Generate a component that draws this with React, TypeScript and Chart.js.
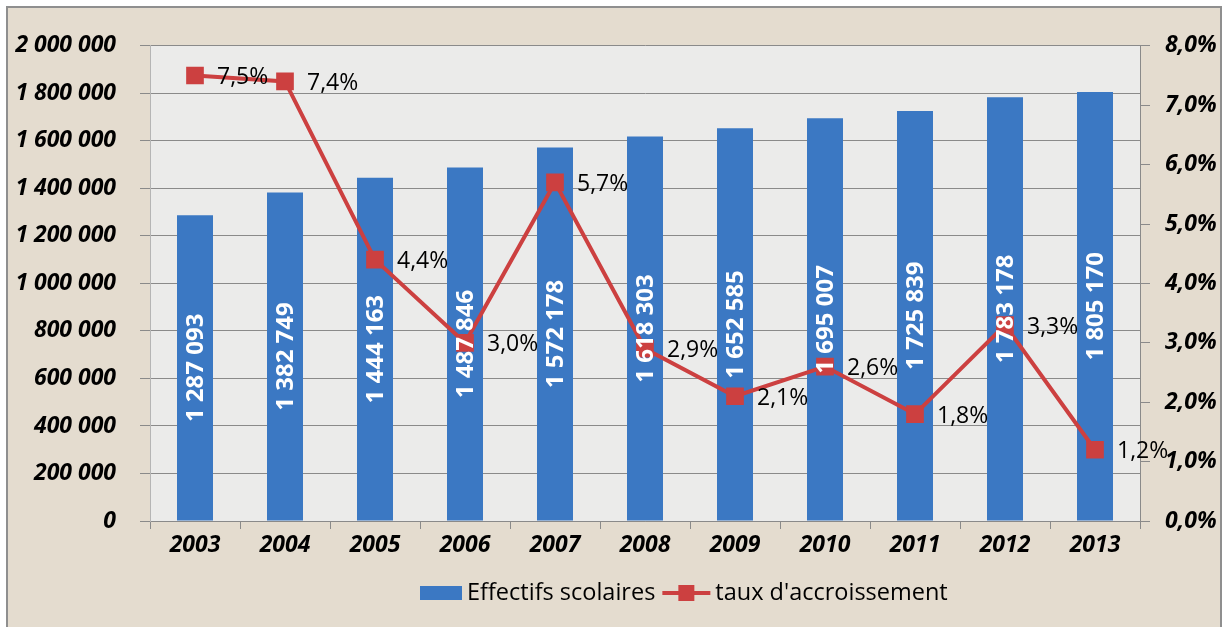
import { useEffect, useRef } from 'react';
import { Chart, registerables } from 'chart.js';

Chart.register(...registerables);

const years = ['2003', '2004', '2005', '2006', '2007', '2008', '2009', '2010', '2011', '2012', '2013'];
const effectifs = [1287093, 1382749, 1444163, 1487846, 1572178, 1618303, 1652585, 1695007, 1725839, 1783178, 1805170];
const taux = [7.5, 7.4, 4.4, 3.0, 5.7, 2.9, 2.1, 2.6, 1.8, 3.3, 1.2];
const seriesNames = ['Effectifs scolaires', "taux d'accroissement"];

const BLUE = '#3b78c3';
const RED = '#cc4040';
const FONT = '"Open Sans", "DejaVu Sans", sans-serif';

const fmtNum = (v: number) => String(Math.round(v)).replace(/\B(?=(\d{3})+(?!\d))/g, ' ');
const fmtPct = (v: number) => v.toFixed(1).replace('.', ',') + '%';

const bgPlugin = {
  id: 'plotBg',
  beforeDraw(chart: any) {
    const { ctx, chartArea } = chart;
    ctx.save();
    ctx.fillStyle = '#ebebea';
    ctx.fillRect(chartArea.left, chartArea.top, chartArea.right - chartArea.left, chartArea.bottom - chartArea.top);
    ctx.restore();
  },
};

const labelPlugin = {
  id: 'valueLabels',
  afterDatasetsDraw(chart: any) {
    const ctx = chart.ctx;
    const barMeta = chart.getDatasetMeta(0);
    barMeta.data.forEach((el: any, i: number) => {
      const { x, y, base } = el.getProps(['x', 'y', 'base'], true);
      ctx.save();
      ctx.translate(x, (y + base) / 2);
      ctx.rotate(-Math.PI / 2);
      ctx.font = `bold 24px ${FONT}`;
      ctx.fillStyle = '#ffffff';
      ctx.textAlign = 'center';
      ctx.textBaseline = 'middle';
      ctx.fillText(fmtNum(effectifs[i]), 0, 1);
      ctx.restore();
    });
    const lineMeta = chart.getDatasetMeta(1);
    lineMeta.data.forEach((el: any, i: number) => {
      const { x, y } = el.getProps(['x', 'y'], true);
      ctx.save();
      ctx.font = `23px ${FONT}`;
      ctx.fillStyle = '#000000';
      ctx.textAlign = 'left';
      ctx.textBaseline = 'middle';
      ctx.fillText(fmtPct(taux[i]), x + 22, y + 2);
      ctx.restore();
    });
  },
};

const legendPlugin = {
  id: 'customLegend',
  afterDraw(chart: any) {
    const ctx = chart.ctx;
    const cy = 585;
    let x = 412;
    ctx.save();
    ctx.font = `23.5px ${FONT}`;
    ctx.textBaseline = 'middle';
    ctx.textAlign = 'left';
    ctx.fillStyle = BLUE;
    ctx.fillRect(x, cy - 7, 42, 14);
    x += 47;
    ctx.fillStyle = '#000';
    ctx.fillText(seriesNames[0], x, cy);
    x += ctx.measureText(seriesNames[0]).width + 7;
    ctx.strokeStyle = RED;
    ctx.lineWidth = 4;
    ctx.beginPath();
    ctx.moveTo(x, cy);
    ctx.lineTo(x + 48, cy);
    ctx.stroke();
    ctx.fillStyle = RED;
    ctx.fillRect(x + 24 - 8, cy - 8, 16, 16);
    x += 53;
    ctx.fillStyle = '#000';
    ctx.fillText(seriesNames[1], x, cy);
    ctx.restore();
  },
};

export default function App() {
  const ref = useRef<HTMLCanvasElement | null>(null);

  useEffect(() => {
    if (!ref.current) return;
    const tickFont = { family: FONT, size: 23, weight: 'bold' as const, style: 'italic' as const };
    const chart = new Chart(ref.current, {
      type: 'bar',
      data: {
        labels: years,
        datasets: [
          {
            type: 'bar',
            label: seriesNames[0],
            data: effectifs,
            backgroundColor: BLUE,
            borderWidth: 0,
            barPercentage: 0.4,
            categoryPercentage: 1,
            yAxisID: 'y',
            order: 2,
          },
          {
            type: 'line',
            label: seriesNames[1],
            data: taux,
            borderColor: RED,
            backgroundColor: RED,
            borderWidth: 4,
            pointStyle: 'rect',
            pointRadius: 12.5,
            pointBorderWidth: 0,
            pointBackgroundColor: RED,
            tension: 0,
            yAxisID: 'y1',
            order: 1,
          } as any,
        ],
      },
      options: {
        animation: false,
        responsive: true,
        maintainAspectRatio: false,
        layout: { padding: { top: 36, left: 4, right: 0, bottom: 61 } },
        plugins: {
          legend: { display: false },
          tooltip: { enabled: false },
          title: { display: false },
        },
        scales: {
          x: {
            grid: { offset: true, drawOnChartArea: false, drawTicks: true, tickLength: 8, color: '#8a8a8a' },
            border: { display: true, color: '#8a8a8a' },
            ticks: { color: '#000', font: tickFont, padding: 3 },
            afterFit: (s: any) => { s.height = 45; },
          },
          y: {
            position: 'left',
            min: 0,
            max: 2000000,
            ticks: { stepSize: 200000, color: '#000', font: tickFont, padding: 24, callback: (v: any) => fmtNum(Number(v)) },
            grid: { color: '#8a8a8a', tickLength: 10, lineWidth: 1 },
            border: { display: true, color: '#b5b5b5' },
            afterFit: (s: any) => { s.width = 138; },
          },
          y1: {
            position: 'right',
            min: 0,
            max: 8,
            ticks: { stepSize: 1, color: '#000', font: tickFont, padding: 15, callback: (v: any) => fmtPct(Number(v)) },
            grid: { drawOnChartArea: false, tickLength: 10, color: '#8a8a8a' },
            border: { display: true, color: '#8a8a8a' },
            afterFit: (s: any) => { s.width = 80; },
          },
        },
      },
      plugins: [bgPlugin, labelPlugin, legendPlugin],
    });
    return () => chart.destroy();
  }, []);

  return (
    <div
      style={{
        position: 'absolute',
        left: 6,
        top: 6,
        width: 1216,
        height: 621,
        boxSizing: 'border-box',
        border: '2px solid #8f8f8f',
        borderBottom: 'none',
        background: '#e4dccf',
      }}
    >
      <div style={{ position: 'relative', width: 1212, height: 619 }}>
        <canvas ref={ref} />
      </div>
    </div>
  );
}
